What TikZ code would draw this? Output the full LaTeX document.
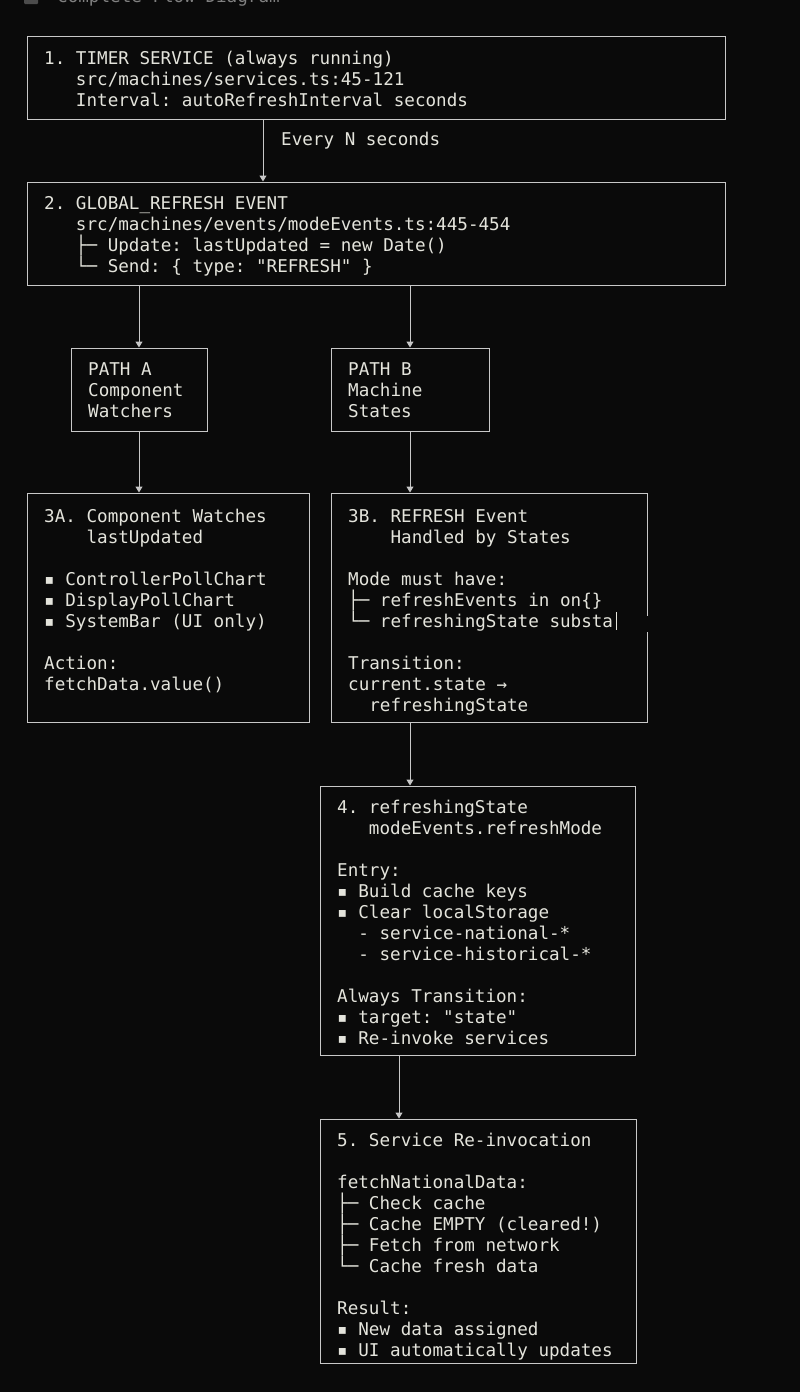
\documentclass[tikz,border=0pt]{standalone}
\usepackage{fontspec}
\setmonofont{DejaVu Sans Mono}
\usetikzlibrary{arrows.meta}
\definecolor{bg}{HTML}{0A0A0A}
\definecolor{fg}{HTML}{E4E4DC}
\definecolor{ln}{HTML}{C8C8C8}
\begin{document}
\begin{tikzpicture}[x=1pt,y=-1pt,
  box/.style={draw=ln,line width=1pt,inner sep=0pt},
  txt/.style={anchor=north west,align=left,inner sep=0pt,text=fg,font=\ttfamily\fontsize{17.6}{21}\selectfont},
  arr/.style={draw=ln,line width=1pt,-{Triangle[width=7pt,length=6pt]}}]
\fill[bg] (0,0) rectangle (800,1392);
\useasboundingbox (0,0) rectangle (800,1392);
% header (cut off at top edge, as in the reference)
\fill[gray!60!black,rounded corners=1pt] (24,-8) rectangle (38,4);
\node[anchor=base west,inner sep=0pt,text=gray,font=\ttfamily\fontsize{17.6}{21}\selectfont] (hdr) at (57,2) {Complete Flow Diagram};
% boxes
\node[box,minimum width=698pt,minimum height=83pt] (b1) at (376,77.5) {};
\node[box,minimum width=698pt,minimum height=103pt] (b2) at (376,233.5) {};
\node[box,minimum width=136pt,minimum height=83pt] (pa) at (139,389.5) {};
\node[box,minimum width=158pt,minimum height=83pt] (pb) at (410,389.5) {};
\node[box,minimum width=282pt,minimum height=229pt] (b3a) at (168,607.5) {};
\node[box,minimum width=316pt,minimum height=229pt] (b3b) at (489,607.5) {};
\node[box,minimum width=315pt,minimum height=269pt] (b4) at (477.5,920.5) {};
\node[box,minimum width=316pt,minimum height=244pt] (b5) at (478,1241) {};
% texts
\node[txt] (t1) at (44,51) {1. TIMER SERVICE (always running)\\
\ \ \ src/machines/services.ts:45-121\\
\ \ \ Interval: autoRefreshInterval seconds};
\node[txt] (t2) at (44,196) {2. GLOBAL\_REFRESH EVENT\\
\ \ \ src/machines/events/modeEvents.ts:445-454\\
\ \ \ ├─ Update: lastUpdated = new Date()\\
\ \ \ └─ Send: \{ type: "REFRESH" \}};
\node[txt] (tpa) at (88,362) {PATH A\\Component\\Watchers};
\node[txt] (tpb) at (348,362) {PATH B\\Machine\\States};
\node[txt] (t3a) at (44,509) {3A. Component Watches\\
\ \ \ \ lastUpdated\\[21pt]
▪ ControllerPollChart\\
▪ DisplayPollChart\\
▪ SystemBar (UI only)\\[21pt]
Action:\\
fetchData.value()};
\node[txt] (t3b) at (348,509) {3B. REFRESH Event\\
\ \ \ \ Handled by States\\[21pt]
Mode must have:\\
├─ refreshEvents in on\{\}\\
└─ refreshingState substa\\[21pt]
Transition:\\
current.state →\\
\ \ refreshingState};
\fill[bg] (643,616) rectangle (651,632);
\draw[fg,line width=1pt] (616,612) -- (616,630);
\node[txt] (t4) at (337,800) {4. refreshingState\\
\ \ \ modeEvents.refreshMode\\[21pt]
Entry:\\
▪ Build cache keys\\
▪ Clear localStorage\\
\ \ - service-national-*\\
\ \ - service-historical-*\\[21pt]
Always Transition:\\
▪ target: "state"\\
▪ Re-invoke services};
\node[txt] (t5) at (337,1133) {5. Service Re-invocation\\[21pt]
fetchNationalData:\\
├─ Check cache\\
├─ Cache EMPTY (cleared!)\\
├─ Fetch from network\\
└─ Cache fresh data\\[21pt]
Result:\\
▪ New data assigned\\
▪ UI automatically updates};
% connectors
\coordinate (c1) at (263,119);
\draw[arr] (c1) -- (c1 |- b2.north);
\node[anchor=west,inner sep=0pt,text=fg,font=\ttfamily\fontsize{17.6}{21}\selectfont] (lbl) at (281,141) {Every N seconds};
\draw[arr] (b2.south -| pa) -- (pa.north);
\draw[arr] (b2.south -| pb) -- (pb.north);
\draw[arr] (pa.south) -- (b3a.north -| pa);
\draw[arr] (pb.south) -- (b3b.north -| pb);
\draw[arr] (b3b.south -| pb) -- (b4.north -| pb);
\coordinate (c4) at (399,1055);
\draw[arr] (c4) -- (c4 |- b5.north);
\end{tikzpicture}
\end{document}
